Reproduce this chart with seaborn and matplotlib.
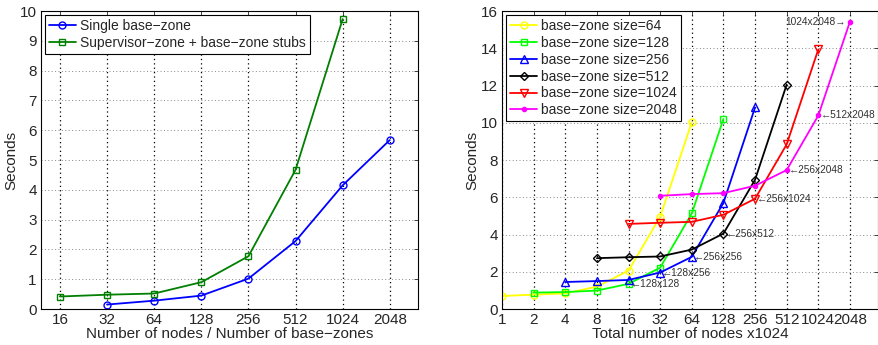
import matplotlib
matplotlib.use("Agg")
import matplotlib.pyplot as plt
import seaborn as sns

# left panel
nodes_left = [16, 32, 64, 128, 256, 512, 1024, 2048]
single_x = [32, 64, 128, 256, 512, 1024, 2048]
single_y = [0.15, 0.28, 0.45, 1.02, 2.28, 4.15, 5.67]
super_x = [16, 32, 64, 128, 256, 512, 1024]
super_y = [0.42, 0.48, 0.52, 0.90, 1.77, 4.67, 9.73]

# right panel
nodes_right = [1, 2, 4, 8, 16, 32, 64, 128, 256, 512, 1024, 2048]
bz64_x = [1, 2, 4, 8, 16, 32, 64]
bz64_y = [0.70, 0.77, 0.84, 1.20, 2.06, 4.95, 10.03]
bz128_x = [2, 4, 8, 16, 32, 64, 128]
bz128_y = [0.88, 0.91, 0.99, 1.35, 2.22, 5.13, 10.20]
bz256_x = [4, 8, 16, 32, 64, 128, 256]
bz256_y = [1.45, 1.50, 1.56, 1.96, 2.80, 5.70, 10.82]
bz512_x = [8, 16, 32, 64, 128, 256, 512]
bz512_y = [2.73, 2.78, 2.82, 3.19, 4.05, 6.94, 12.05]
bz1024_x = [16, 32, 64, 128, 256, 512, 1024]
bz1024_y = [4.57, 4.63, 4.68, 5.06, 5.92, 8.84, 13.94]
bz2048_x = [32, 64, 128, 256, 512, 1024, 2048]
bz2048_y = [6.08, 6.17, 6.22, 6.62, 7.46, 10.39, 15.43]

# annotations: (label, x, y, side)
notes = [("128x128", 16, 1.35, "r"), ("128x256", 32, 1.96, "r"),
         ("256x256", 64, 2.80, "r"), ("256x512", 128, 4.05, "r"),
         ("256x1024", 256, 5.92, "r"), ("256x2048", 512, 7.46, "r"),
         ("512x2048", 1024, 10.39, "r"), ("1024x2048", 2048, 15.43, "l")]

sns.set_style("white")
plt.rcParams["font.family"] = ["Liberation Sans", "DejaVu Sans"]
plt.rcParams["font.size"] = 10

fig = plt.figure(figsize=(8.79, 3.45), dpi=100)
ax1 = fig.add_axes([0.0466, 0.1043, 0.4289, 0.8638])
ax2 = fig.add_axes([0.5711, 0.1043, 0.4278, 0.8638])


def style_axis(ax):
    for s in ax.spines.values():
        s.set_color("black")
        s.set_linewidth(0.8)
        s.set_visible(True)
    ax.tick_params(direction="in", length=3, width=0.6, top=True, right=True,
                   labelsize=11, pad=3, which="major")
    ax.tick_params(which="minor", length=0)
    ax.xaxis.grid(True, which="major", linestyle=(0, (1, 2.5)), color="black", linewidth=0.9)
    ax.yaxis.grid(True, which="major", linestyle=(0, (1, 2.5)), color="#888888", linewidth=0.7)
    ax.set_axisbelow(True)


def marker_kw(c, m):
    kw = dict(markerfacecolor="none", markeredgecolor=c, markersize=5,
              markeredgewidth=1.0, linewidth=1.3)
    if m == ".":
        kw["markerfacecolor"] = c
        kw["markersize"] = 6
    if m == "D":
        kw["markersize"] = 4
    if m in ("^", "v"):
        kw["markersize"] = 6
    return kw


def add_legend(ax):
    leg = ax.legend(loc="upper left", fancybox=False, edgecolor="black", framealpha=1,
                    borderaxespad=0.3, handlelength=1.9, borderpad=0.3, labelspacing=0.2,
                    handletextpad=0.3, fontsize=10)
    leg.get_frame().set_linewidth(0.8)


sns.lineplot(x=single_x, y=single_y, color="#0000ff", marker="o",
             label="Single base−zone", ax=ax1, **marker_kw("#0000ff", "o"))
sns.lineplot(x=super_x, y=super_y, color="#007f00", marker="s",
             label="Supervisor−zone + base−zone stubs", ax=ax1, **marker_kw("#007f00", "s"))
ax1.set_xscale("log", base=2)
ax1.set_xlim(12.1, 3100)
ax1.set_xticks(nodes_left)
ax1.set_xticklabels([str(v) for v in nodes_left])
ax1.set_ylim(0, 10)
ax1.set_yticks(range(0, 11))
ax1.set_xlabel("Number of nodes / Number of base−zones", labelpad=0, fontsize=11)
ax1.set_ylabel("Seconds", labelpad=1, fontsize=11)
style_axis(ax1)
add_legend(ax1)

series = [(bz64_x, bz64_y, "#ffff00", "o", "base−zone size=64"),
          (bz128_x, bz128_y, "#00ff00", "s", "base−zone size=128"),
          (bz256_x, bz256_y, "#0000ff", "^", "base−zone size=256"),
          (bz512_x, bz512_y, "#000000", "D", "base−zone size=512"),
          (bz1024_x, bz1024_y, "#ff0000", "v", "base−zone size=1024"),
          (bz2048_x, bz2048_y, "#ff00ff", ".", "base−zone size=2048")]
for xs, ys, c, m, lab in series:
    sns.lineplot(x=xs, y=ys, color=c, marker=m, label=lab, ax=ax2, **marker_kw(c, m))

for lab, x, y, side in notes:
    if side == "r":
        ax2.annotate("←" + lab, (x, y), xytext=(1.5, 0), textcoords="offset points",
                     ha="left", va="center", fontsize=7.3, color="#333333")
    else:
        ax2.annotate(lab + "→", (x, y), xytext=(-3, 0), textcoords="offset points",
                     ha="right", va="center", fontsize=7.3, color="#333333")

ax2.set_xscale("log", base=2)
ax2.set_xlim(1, 3790)
ax2.set_xticks(nodes_right)
ax2.set_xticklabels([str(v) for v in nodes_right])
ax2.set_ylim(0, 16)
ax2.set_yticks(range(0, 17, 2))
ax2.set_xlabel("Total number of nodes x1024", labelpad=0, fontsize=11)
ax2.set_ylabel("Seconds", labelpad=1, fontsize=11)
style_axis(ax2)
add_legend(ax2)

fig.savefig("out.png", dpi=100)
